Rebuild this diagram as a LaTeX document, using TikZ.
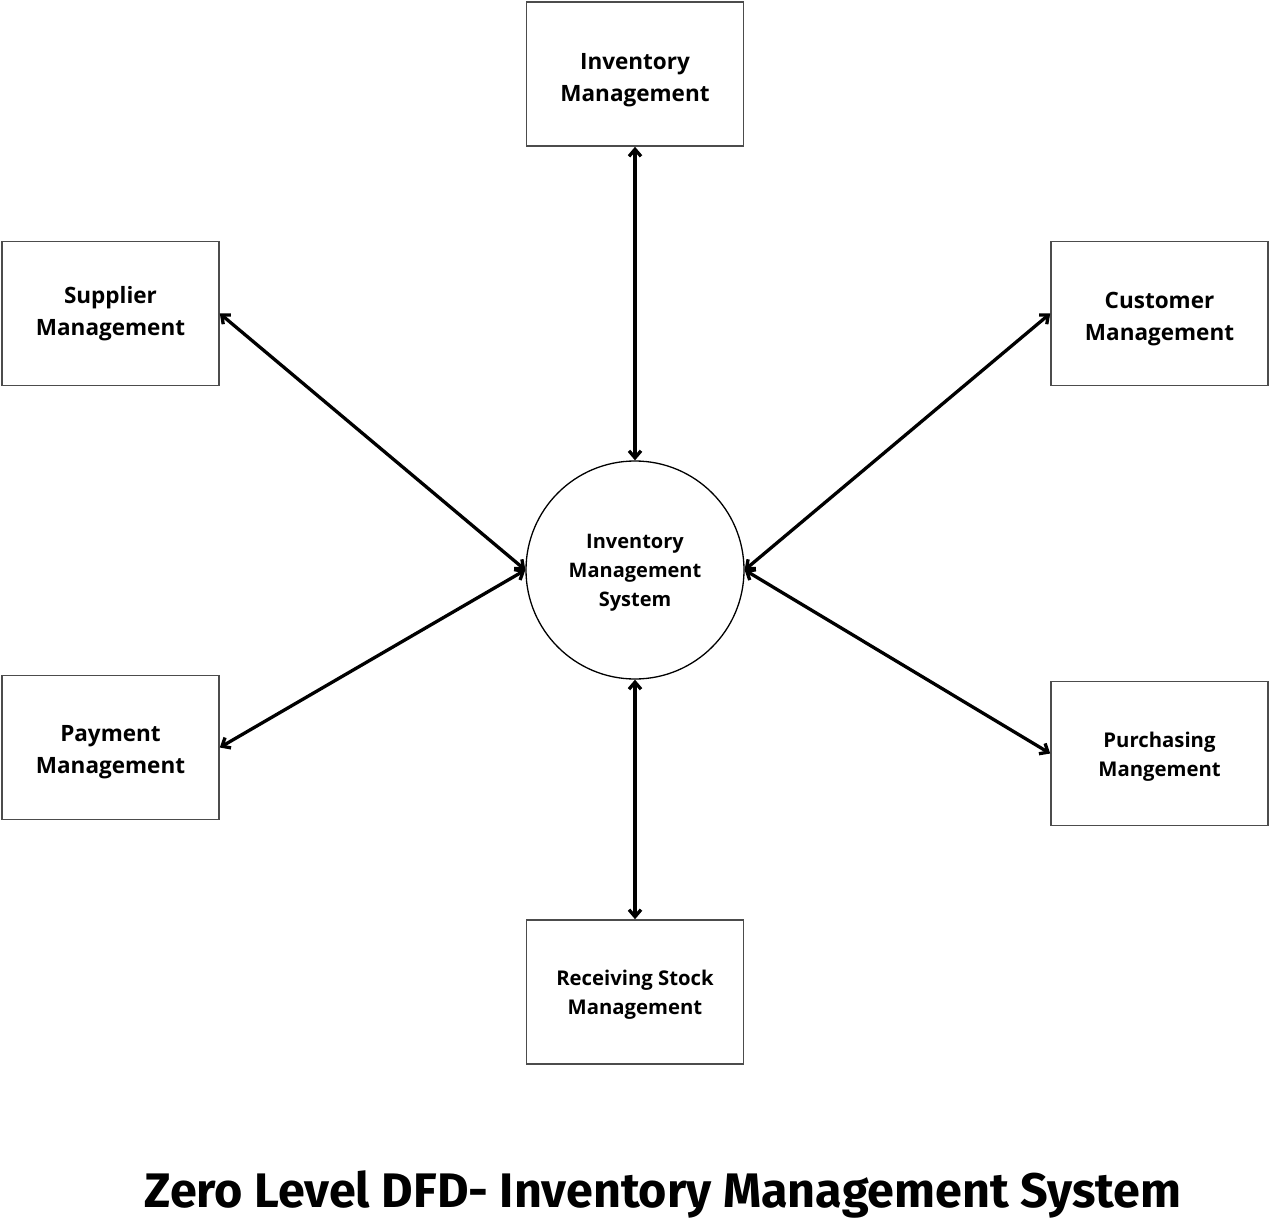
\documentclass[tikz,border=0pt]{standalone}
\usepackage{fontspec}
\setmainfont{Open Sans}
\newfontfamily\titlefont{Fira Sans}
\usetikzlibrary{arrows.meta}
\tikzset{
	entitybox/.style = {draw = black!70, line width = 1.6pt, minimum width = 217pt, minimum height = 144pt},
	biglabel/.style = {align = center, font = \bfseries\fontsize{22.5}{32}\selectfont},
	smalllabel/.style = {align = center, font = \bfseries\fontsize{20.3}{29}\selectfont},
	flow/.style = {{Straight Barb[length=7pt,width=12pt]}-{Straight Barb[length=7pt,width=12pt]}, line width = 3.3pt}
}
\begin{document}
\begin{tikzpicture}[x=1pt, y=-1pt]
		\useasboundingbox [fill = white] (0,0) rectangle (1280,1228);
		
		\node [draw = black, line width = 1.3pt, circle, minimum size = 218pt] (ims) at (635, 570) {};
		\node [align = center, font = \bfseries\fontsize{20}{29}\selectfont] (imslabel) at (635, 573) {Inventory\\Management\\System};
		
		\node [entitybox] (inv) at (635, 74) {};
		\node [entitybox] (sup) at (110.5, 313.5) {};
		\node [entitybox] (cus) at (1159.5, 313.5) {};
		\node [entitybox] (pay) at (110.5, 747.5) {};
		\node [entitybox] (pur) at (1159.5, 753.5) {};
		\node [entitybox] (rec) at (635, 992) {};
		
		% labels sit a little off the box centres
		\node [biglabel] (invlabel) at ([yshift=-6pt]inv.center) {Inventory\\Management};
		\node [biglabel] (suplabel) at ([yshift=0pt]sup.center) {Supplier\\Management};
		\node [biglabel] (cuslabel) at ([yshift=-6pt]cus.center) {Customer\\Management};
		\node [biglabel] (paylabel) at ([yshift=-5pt]pay.center) {Payment\\Management};
		\node [smalllabel] (purlabel) at ([yshift=-3pt]pur.center) {Purchasing\\Mangement};
		\node [smalllabel] (reclabel) at ([yshift=-3pt]rec.center) {Receiving Stock\\Management};
		
		\draw [flow] (inv.south) -- (ims.north);
		\draw [flow] (rec.north) -- (ims.south);
		\draw [flow] (sup.east) -- (ims.west);
		\draw [flow] (pay.east) -- (ims.west);
		\draw [flow] (cus.west) -- (ims.east);
		\draw [flow] (pur.west) -- (ims.east);
		
		\node [font = \titlefont\bfseries\fontsize{48.5}{52}\selectfont] (title) at (663, 1194) {Zero Level DFD- Inventory Management System};
		
		\end{tikzpicture}
\end{document}
